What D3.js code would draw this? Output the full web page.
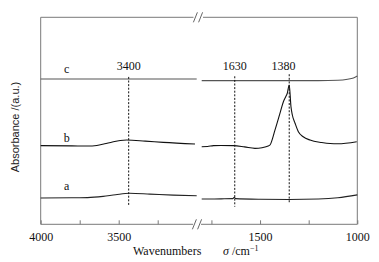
<!DOCTYPE html>
<html><head><meta charset="utf-8">
<script src="https://cdn.jsdelivr.net/npm/d3@7"></script>
<style>html,body{margin:0;padding:0;background:#fff;}svg{display:block;}</style>
</head><body>
<svg id="chart" width="379" height="262"></svg>
<script>
// ---- data ----
const leftDomain = [4000, 3000];
const rightDomain = [1800, 1000];
const leftTicks = [4000, 3750, 3500, 3250];
const leftTickLabels = ["4000", "", "3500", ""];
const rightTicks = [1750, 1500, 1250, 1000];
const rightTickLabels = ["", "1500", "", "1000"];

const seriesA_left = [[4000,0.127],[3800,0.128],[3700,0.129],[3600,0.135],[3520,0.143],[3430,0.150],[3300,0.146],[3150,0.141],[3000,0.138]];
const seriesA_right = [[1800,0.122],[1700,0.123],[1640,0.124],[1632,0.131],[1626,0.124],[1500,0.121],[1350,0.120],[1200,0.122],[1100,0.128],[1000,0.142]];
const seriesB_left = [[4000,0.380],[3800,0.379],[3700,0.378],[3640,0.381],[3590,0.389],[3540,0.398],[3490,0.405],[3449,0.407],[3330,0.402],[3214,0.396],[3011,0.388]];
const seriesB_right = [[1800,0.375],[1770,0.376],[1740,0.380],[1700,0.381],[1637,0.380],[1580,0.374],[1526,0.367],[1490,0.370],[1458,0.378],[1449,0.383],[1423,0.456],[1397,0.538],[1380,0.592],[1368,0.616],[1360,0.633],[1350,0.673],[1341,0.568],[1334,0.528],[1320,0.488],[1303,0.447],[1278,0.423],[1243,0.407],[1183,0.395],[1140,0.390],[1100,0.389],[1003,0.399]];
const seriesC_left = [[4000,0.702],[3500,0.702],[3000,0.702]];
const seriesC_right = [[1800,0.694],[1400,0.694],[1200,0.694],[1100,0.696],[1050,0.701],[1020,0.707],[1000,0.716]];
const seriesLabels = [["a",0.165],["b",0.40],["c",0.73]];

// peak markers: label, segment, label position, line position, line top, line bottom
const markers = [
  {label:"3400", seg:"L", labelAt:3436, lineAt:3436, top:0.712, bottom:0.093},
  {label:"1630", seg:"R", labelAt:1630, lineAt:1630, top:0.715, bottom:0.085},
  {label:"1380", seg:"R", labelAt:1380, lineAt:1350, top:0.725, bottom:0.103}
];

// ---- layout ----
const svg = d3.select("#chart");
const L = 40.7, R = 357.3, T = 17.3, B = 224.3;
const xL = d3.scaleLinear().domain(leftDomain).range([L, 196.7]);
const xR = d3.scaleLinear().domain(rightDomain).range([201.7, R]);
const y = d3.scaleLinear().domain([0, 1]).range([B, T]);
const frameColor = "#7a7a7a";
const serif = "'Liberation Serif','Times New Roman',serif";

// frame
const g = svg.append("g");
g.append("line").attr("x1",L).attr("x2",L).attr("y1",T).attr("y2",B).attr("stroke",frameColor);
g.append("line").attr("x1",R).attr("x2",R).attr("y1",T).attr("y2",B).attr("stroke",frameColor);
g.append("line").attr("x1",L).attr("x2",193.5).attr("y1",T).attr("y2",T).attr("stroke",frameColor);
g.append("line").attr("x1",203).attr("x2",R).attr("y1",T).attr("y2",T).attr("stroke",frameColor);

// axes (ticks inward)
const axL = d3.axisBottom(xL).tickValues(leftTicks).tickSize(-4)
  .tickFormat((d,i)=>leftTickLabels[i]).tickPadding(8);
const axR = d3.axisBottom(xR).tickValues(rightTicks).tickSize(-4)
  .tickFormat((d,i)=>rightTickLabels[i]).tickPadding(8);
const gL = svg.append("g").attr("transform",`translate(0,${B})`).call(axL);
const gR = svg.append("g").attr("transform",`translate(0,${B})`).call(axR);
[gL,gR].forEach(a=>{
  a.select(".domain").remove();
  a.selectAll("line").attr("stroke",frameColor);
  a.selectAll("text").attr("font-family",serif).attr("font-size",12).attr("fill","#111");
});
g.append("line").attr("x1",L).attr("x2",193).attr("y1",B).attr("y2",B).attr("stroke",frameColor);
g.append("line").attr("x1",201).attr("x2",R).attr("y1",B).attr("y2",B).attr("stroke",frameColor);

// break marks
function breakMark(cx, cy){
  [-2.6, 2.6].forEach(dx=>{
    svg.append("line").attr("x1",cx+dx-2).attr("y1",cy+5).attr("x2",cx+dx+2).attr("y2",cy-5)
      .attr("stroke","#555").attr("stroke-width",0.9);
  });
}
breakMark(198, T);
breakMark(197, B);

// spectra
function drawSeries(data, xs, color){
  const pts = data.map(d=>[xs(d[0]), y(d[1])]).sort((a,b)=>a[0]-b[0]);
  svg.append("path").attr("d", d3.line().curve(d3.curveMonotoneX)(pts))
    .attr("fill","none").attr("stroke",color).attr("stroke-width",1.1);
}
drawSeries(seriesA_left, xL, "#222");
drawSeries(seriesA_right, xR, "#222");
drawSeries(seriesB_left, xL, "#111");
drawSeries(seriesB_right, xR, "#111");
drawSeries(seriesC_left, xL, "#555");
drawSeries(seriesC_right, xR, "#555");

// markers
markers.forEach(m=>{
  const xs = m.seg === "L" ? xL : xR;
  svg.append("line").attr("x1",xs(m.lineAt)).attr("x2",xs(m.lineAt))
    .attr("y1",y(m.top)).attr("y2",y(m.bottom))
    .attr("stroke","#111").attr("stroke-width",1).attr("stroke-dasharray","2,1.6");
  svg.append("text").attr("x",xs(m.labelAt)).attr("y",70).attr("text-anchor","middle")
    .attr("font-family",serif).attr("font-size",12).attr("fill","#111").text(m.label);
});

// series labels
seriesLabels.forEach(([t,v])=>{
  svg.append("text").attr("x",66.7).attr("y",y(v)).attr("text-anchor","middle")
    .attr("font-family",serif).attr("font-size",12).attr("fill","#111").text(t);
});

// axis titles
const xt = svg.append("text").attr("y",255).attr("font-family",serif).attr("font-size",12).attr("fill","#111");
xt.append("tspan").attr("x",133).text("Wavenumbers");
xt.append("tspan").attr("x",223).attr("font-style","italic").text("σ");
xt.append("tspan").text(" /cm");
xt.append("tspan").attr("font-size",8).attr("dy",-4).text("−1");

svg.append("text").attr("transform","translate(19,127) rotate(-90)").attr("text-anchor","middle")
  .attr("font-family","'Liberation Sans',Arial,sans-serif").attr("font-size",11).attr("fill","#222")
  .text("Absorbance /(a.u.)");
</script>
</body></html>
